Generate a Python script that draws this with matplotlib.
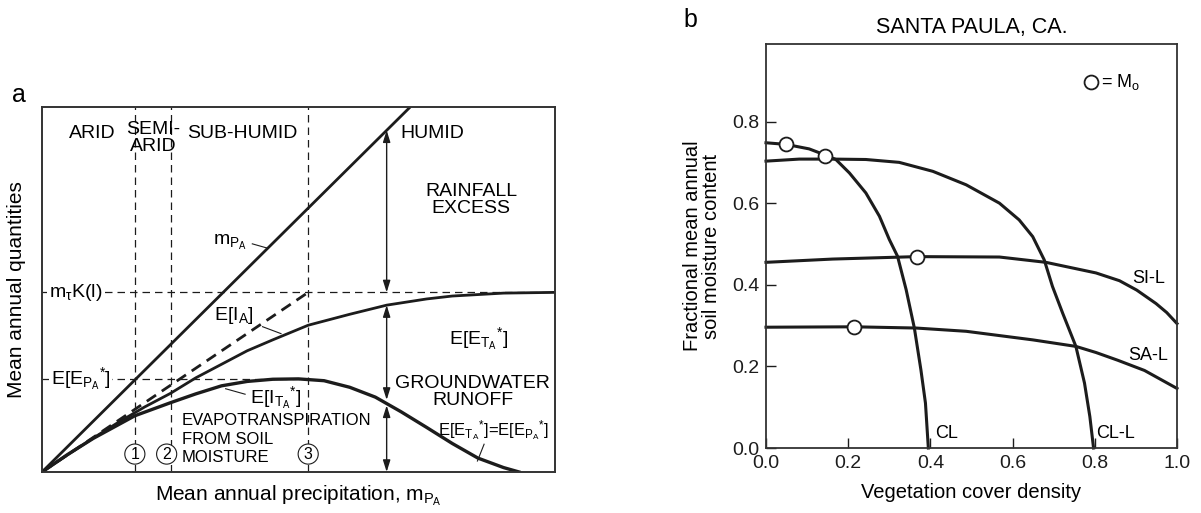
import numpy as np
import matplotlib
matplotlib.use("Agg")
import matplotlib.pyplot as plt

plt.rcParams["font.family"] = ["Liberation Sans", "DejaVu Sans"]
plt.rcParams["mathtext.fontset"] = "custom"
plt.rcParams["mathtext.rm"] = "Liberation Sans"
plt.rcParams["mathtext.it"] = "Liberation Sans"
plt.rcParams["mathtext.sf"] = "Liberation Sans"
plt.rcParams["mathtext.bf"] = "Liberation Sans:bold"

INK = "#1c1c1c"

# ---------------------------------------------------------------- panel a data
# normalised precipitation axis (0..1) and normalised quantities (0..1)
m_pa_x = [0.0, 0.718]
m_pa_y = [0.0, 1.0]

ia_x = [0.0, 0.05, 0.10, 0.15, 0.20, 0.25, 0.30, 0.35, 0.40, 0.45, 0.519, 0.60,
        0.672, 0.75, 0.80, 0.90, 1.0]
ia_y = [0.0, 0.047, 0.093, 0.137, 0.178, 0.215, 0.258, 0.295, 0.332, 0.362, 0.402,
        0.432, 0.457, 0.474, 0.482, 0.490, 0.492]

it_x = [0.0, 0.05, 0.10, 0.181, 0.251, 0.30, 0.35, 0.40, 0.45, 0.50, 0.55, 0.60,
        0.65, 0.70, 0.75, 0.80, 0.85, 0.90, 0.93]
it_y = [0.0, 0.048, 0.092, 0.154, 0.190, 0.214, 0.236, 0.248, 0.254, 0.255, 0.250,
        0.232, 0.205, 0.165, 0.122, 0.078, 0.038, 0.012, 0.0]

ia_linear_x = [0.0, 0.519]
ia_linear_y = [0.0, 0.492]

mtk_level = 0.492
epa_level = 0.255
climate_bounds = [0.181, 0.251, 0.519]
arrow_x = 0.672

# ---------------------------------------------------------------- panel b data
cl_x = [0.0, 0.049, 0.105, 0.144, 0.170, 0.203, 0.243, 0.276, 0.300, 0.320, 0.341,
        0.361, 0.377, 0.388, 0.395]
cl_y = [0.748, 0.744, 0.733, 0.718, 0.707, 0.674, 0.625, 0.568, 0.511, 0.470, 0.388,
        0.294, 0.191, 0.110, 0.0]

cll_x = [0.0, 0.081, 0.162, 0.243, 0.324, 0.406, 0.487, 0.568, 0.616, 0.649, 0.677,
         0.697, 0.722, 0.754, 0.775, 0.788, 0.797]
cll_y = [0.703, 0.708, 0.708, 0.707, 0.700, 0.678, 0.645, 0.600, 0.559, 0.518, 0.461,
         0.396, 0.330, 0.249, 0.159, 0.077, 0.0]

sil_x = [0.0, 0.162, 0.367, 0.568, 0.681, 0.803, 0.860, 0.902, 0.949, 0.975, 1.0]
sil_y = [0.455, 0.463, 0.469, 0.468, 0.455, 0.429, 0.410, 0.387, 0.354, 0.332, 0.305]

sal_x = [0.0, 0.215, 0.365, 0.487, 0.649, 0.754, 0.803, 0.856, 0.921, 1.0]
sal_y = [0.296, 0.297, 0.294, 0.286, 0.265, 0.249, 0.234, 0.215, 0.190, 0.146]

mo_x = [0.049, 0.144, 0.367, 0.215]
mo_y = [0.744, 0.715, 0.469, 0.297]

fig = plt.figure(figsize=(12.01, 5.13), dpi=100)

# ================================================================ panel a
ax = fig.add_axes([0.035, 0.080, 0.427, 0.7115])
ax.set_xlim(0, 1)
ax.set_ylim(0, 1)
ax.set_xticks([])
ax.set_yticks([])
for s in ax.spines.values():
    s.set_linewidth(1.4)
    s.set_color("#333333")

dash = dict(color=INK, lw=0.9, ls=(0, (6, 4)))
for xb in climate_bounds:
    ax.axvline(xb, **dash)
ax.plot([0, 1], [mtk_level, mtk_level], **dash)
ax.plot([0, climate_bounds[2]], [epa_level, epa_level], **dash)

ax.plot(m_pa_x, m_pa_y, color=INK, lw=2.0, solid_capstyle="butt")
ax.plot(ia_linear_x, ia_linear_y, color=INK, lw=2.0, ls=(0, (4, 2.5)))
ax.plot(ia_x, ia_y, color=INK, lw=2.0, solid_joinstyle="round")
ax.plot(it_x, it_y, color=INK, lw=2.4, solid_joinstyle="round")

# component arrows
y_top = np.interp(arrow_x, m_pa_x, m_pa_y)
y_ia = np.interp(arrow_x, ia_x, ia_y)
y_it = np.interp(arrow_x, it_x, it_y)
arr = dict(arrowstyle="<|-|>,head_length=0.7,head_width=0.22", color=INK, lw=1.0,
           shrinkA=0, shrinkB=0)
for y0, y1 in [(y_top, mtk_level), (y_ia, y_it + 0.01), (y_it - 0.005, 0.0)]:
    ax.annotate("", xy=(arrow_x, y1), xytext=(arrow_x, y0), arrowprops=arr)

fs = 14
ax.text(0.097, 0.927, "ARID", fontsize=fs, ha="center", va="center")
ax.text(0.216, 0.915, "SEMI-\nARID", fontsize=fs, ha="center", va="center", linespacing=0.95)
ax.text(0.39, 0.927, "SUB-HUMID", fontsize=fs, ha="center", va="center")
ax.text(0.761, 0.927, "HUMID", fontsize=fs, ha="center", va="center")
ax.text(0.837, 0.744, "RAINFALL\nEXCESS", fontsize=fs, ha="center", va="center", linespacing=1.0)
ax.text(0.851, 0.365, r"E[E$_{T_A}{}^{*}$]", fontsize=fs, ha="center", va="center")
ax.text(0.84, 0.22, "GROUNDWATER\nRUNOFF", fontsize=fs, ha="center", va="center", linespacing=1.0)
for line, yl in zip(["EVAPOTRANSPIRATION", "FROM SOIL", "MOISTURE"], [0.14, 0.09, 0.04]):
    ax.text(0.272, yl, line, fontsize=12, ha="left", va="center")

ax.text(0.366, 0.628, r"m$_{P_A}$", fontsize=fs, ha="center", va="center")
ax.plot([0.41, 0.44], [0.625, 0.613], color=INK, lw=0.8)
ax.text(0.373, 0.43, r"E[I$_A$]", fontsize=fs, ha="center", va="center")
ax.plot([0.43, 0.466], [0.398, 0.379], color=INK, lw=0.8)
ax.text(0.455, 0.205, r"E[I$_{T_A}{}^{*}$]", fontsize=fs, ha="center", va="center")
ax.plot([0.358, 0.396], [0.228, 0.213], color=INK, lw=0.8)
ax.text(0.88, 0.113, r"E[E$_{T_A}{}^{*}$]=E[E$_{P_A}{}^{*}$]", fontsize=12,
        ha="center", va="center")
ax.plot([0.862, 0.849], [0.076, 0.030], color=INK, lw=0.8)

ax.text(0.065, mtk_level, r"m$_\tau$K(l)", fontsize=fs, ha="center", va="center",
        bbox=dict(fc="white", ec="none", pad=1.0))
ax.text(0.075, epa_level, r"E[E$_{P_A}{}^{*}$]", fontsize=fs, ha="center", va="center",
        bbox=dict(fc="white", ec="none", pad=1.0))

for num, xb in zip(["1", "2", "3"], [0.181, 0.243, 0.519]):
    ax.text(xb, 0.049, num, fontsize=11.5, ha="center", va="center",
            bbox=dict(boxstyle="circle,pad=0.16", fc="white", ec=INK, lw=0.8))

ax.text(-0.05, 0.5, "Mean annual quantities", fontsize=15, rotation=90,
        ha="center", va="center", transform=ax.transAxes)
ax.text(0.5, -0.065, r"Mean annual precipitation, m$_{P_A}$", fontsize=15,
        ha="center", va="center", transform=ax.transAxes)
fig.text(0.0158, 0.815, "a", fontsize=18, ha="center", va="center")

# ================================================================ panel b
bx = fig.add_axes([0.6378, 0.1267, 0.3422, 0.7875])
bx.set_xlim(0, 1)
bx.set_ylim(0, 0.99)
bx.set_xticks([0, 0.2, 0.4, 0.6, 0.8, 1.0])
bx.set_yticks([0, 0.2, 0.4, 0.6, 0.8])
bx.xaxis.set_major_formatter(matplotlib.ticker.FormatStrFormatter("%.1f"))
bx.yaxis.set_major_formatter(matplotlib.ticker.FormatStrFormatter("%.1f"))
bx.tick_params(direction="in", length=7, width=1.0, labelsize=14, colors=INK, pad=5)
for s in bx.spines.values():
    s.set_linewidth(1.3)
    s.set_color("#333333")

for xs, ys in [(cl_x, cl_y), (cll_x, cll_y), (sil_x, sil_y), (sal_x, sal_y)]:
    bx.plot(xs, ys, color=INK, lw=2.2, clip_on=False, solid_joinstyle="round")
bx.plot(mo_x, mo_y, ls="none", marker="o", ms=10, mfc="white", mec=INK, mew=1.3,
        zorder=5)

bx.plot([0.79], [0.898], ls="none", marker="o", ms=10, mfc="white", mec=INK, mew=1.3)
bx.text(0.815, 0.898, r"= M$_o$", fontsize=13, ha="left", va="center")

bx.text(0.93, 0.415, "SI-L", fontsize=13, ha="center", va="center")
bx.text(0.93, 0.227, "SA-L", fontsize=13, ha="center", va="center")
bx.text(0.44, 0.035, "CL", fontsize=13, ha="center", va="center")
bx.text(0.85, 0.035, "CL-L", fontsize=13, ha="center", va="center")

bx.set_title("SANTA PAULA, CA.", fontsize=15.5, pad=8)
bx.text(-0.155, 0.5, "Fractional mean annual\nsoil moisture content", fontsize=14.5,
        rotation=90, ha="center", va="center", transform=bx.transAxes, linespacing=1.0)
bx.text(0.5, -0.111, "Vegetation cover density", fontsize=14.5, ha="center", va="center",
        transform=bx.transAxes)
fig.text(0.5745, 0.961, "b", fontsize=18, ha="center", va="center")

fig.savefig("out.png", dpi=100)
